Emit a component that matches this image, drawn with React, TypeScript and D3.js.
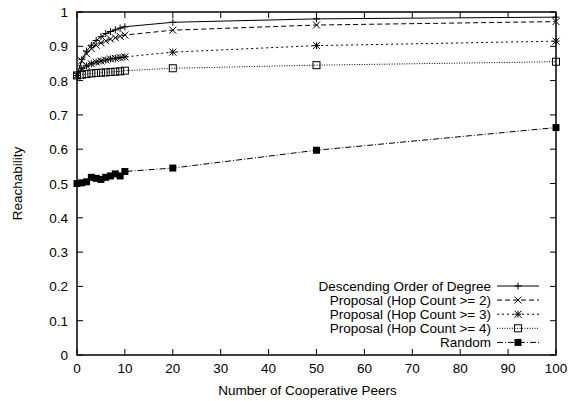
import React, { useEffect, useRef } from 'react'
import * as d3 from 'd3'

// peers counts used in the experiment
const peers = [0, 1, 2, 3, 4, 5, 6, 7, 8, 9, 10, 20, 50, 100]

const descending = [0.815, 0.862, 0.886, 0.903, 0.917, 0.928, 0.937, 0.943, 0.948, 0.953, 0.957, 0.970, 0.980, 0.985]
const hop2 = [0.815, 0.858, 0.878, 0.893, 0.903, 0.910, 0.916, 0.921, 0.925, 0.929, 0.933, 0.947, 0.962, 0.972]
const hop3 = [0.815, 0.835, 0.843, 0.849, 0.854, 0.857, 0.860, 0.863, 0.865, 0.867, 0.869, 0.883, 0.902, 0.915]
const hop4 = [0.815, 0.817, 0.819, 0.821, 0.822, 0.823, 0.824, 0.825, 0.826, 0.827, 0.829, 0.836, 0.845, 0.855]
const random = [0.500, 0.502, 0.505, 0.518, 0.515, 0.512, 0.518, 0.522, 0.528, 0.522, 0.535, 0.545, 0.597, 0.663]

const seriesNames = [
  'Descending Order of Degree',
  'Proposal (Hop Count >= 2)',
  'Proposal (Hop Count >= 3)',
  'Proposal (Hop Count >= 4)',
  'Random',
]

const xTicks = [0, 10, 20, 30, 40, 50, 60, 70, 80, 90, 100]
const yTicks = [0, 0.1, 0.2, 0.3, 0.4, 0.5, 0.6, 0.7, 0.8, 0.9, 1]

const W = 579, H = 401
const FONT = '"Liberation Sans", Arial, sans-serif'
const FS = 13.5

function App() {
  const ref = useRef<SVGSVGElement>(null)

  useEffect(() => {
    const svg = d3.select(ref.current)
    svg.selectAll('*').remove()

    const left = 77, right = 556, top = 12, bottom = 355
    const x = d3.scaleLinear().domain([0, 100]).range([left, right])
    const y = d3.scaleLinear().domain([0, 1]).range([bottom, top])

    const series = [descending, hop2, hop3, hop4, random]
    const dashes = ['none', '5,3', '2,3', '1,1.5', '6,2,1,2']
    const markers = ['plus', 'cross', 'star', 'box', 'fbox']

    const g = svg.append('g')

    // ticks (mirrored on all sides, pointing inward)
    const tl = 6
    xTicks.forEach(t => {
      g.append('line').attr('x1', x(t)).attr('x2', x(t)).attr('y1', bottom).attr('y2', bottom - tl)
        .attr('stroke', '#000').attr('stroke-width', 1)
      g.append('line').attr('x1', x(t)).attr('x2', x(t)).attr('y1', top).attr('y2', top + tl)
        .attr('stroke', '#000').attr('stroke-width', 1)
      g.append('text').attr('x', x(t)).attr('y', bottom + 18).attr('text-anchor', 'middle')
        .attr('font-family', FONT).attr('font-size', FS).text(t)
    })
    yTicks.forEach(t => {
      g.append('line').attr('x1', left).attr('x2', left + tl).attr('y1', y(t)).attr('y2', y(t))
        .attr('stroke', '#000').attr('stroke-width', 1)
      g.append('line').attr('x1', right).attr('x2', right - tl).attr('y1', y(t)).attr('y2', y(t))
        .attr('stroke', '#000').attr('stroke-width', 1)
      g.append('text').attr('x', left - 9).attr('y', y(t) + 5).attr('text-anchor', 'end')
        .attr('font-family', FONT).attr('font-size', FS).text(d3.format('~g')(t))
    })

    g.append('text').attr('transform', `translate(22,${(top + bottom) / 2}) rotate(-90)`)
      .attr('text-anchor', 'middle').attr('font-family', FONT).attr('font-size', FS).text('Reachability')
    g.append('text').attr('x', (left + right) / 2 - 9).attr('y', 395).attr('text-anchor', 'middle')
      .attr('font-family', FONT).attr('font-size', FS).text('Number of Cooperative Peers')

    const drawMarker = (sel: any, kind: string, cx: number, cy: number) => {
      const s = 3.5
      const st = (p: any) => p.attr('stroke', '#000').attr('stroke-width', 1).attr('fill', 'none')
      if (kind === 'plus' || kind === 'star') {
        st(sel.append('path').attr('d', `M${cx - s},${cy}H${cx + s}M${cx},${cy - s}V${cy + s}`))
      }
      if (kind === 'cross' || kind === 'star') {
        st(sel.append('path').attr('d', `M${cx - s},${cy - s}L${cx + s},${cy + s}M${cx - s},${cy + s}L${cx + s},${cy - s}`))
      }
      if (kind === 'box') {
        st(sel.append('rect').attr('x', cx - s).attr('y', cy - s).attr('width', 2 * s).attr('height', 2 * s))
      }
      if (kind === 'fbox') {
        sel.append('rect').attr('x', cx - s).attr('y', cy - s).attr('width', 2 * s).attr('height', 2 * s).attr('fill', '#000')
      }
    }

    const line = d3.line<number>().x((_, i) => x(peers[i])).y(d => y(d))

    series.forEach((vals, k) => {
      g.append('path').attr('d', line(vals)).attr('fill', 'none').attr('stroke', '#000')
        .attr('stroke-width', 1).attr('stroke-dasharray', dashes[k])
      vals.forEach((v, i) => drawMarker(g, markers[k], x(peers[i]), y(v)))
    })

    // legend
    const ly0 = 286, ldy = 14.1
    seriesNames.forEach((name, k) => {
      const ly = ly0 + k * ldy
      g.append('text').attr('x', 491).attr('y', ly + 5).attr('text-anchor', 'end')
        .attr('font-family', FONT).attr('font-size', FS).text(name)
      g.append('line').attr('x1', 497).attr('x2', 539).attr('y1', ly).attr('y2', ly)
        .attr('stroke', '#000').attr('stroke-width', 1).attr('stroke-dasharray', dashes[k])
      drawMarker(g, markers[k], 518, ly)
    })

    // frame
    g.append('rect').attr('x', left).attr('y', top).attr('width', right - left).attr('height', bottom - top)
      .attr('fill', 'none').attr('stroke', '#000').attr('stroke-width', 1.5)
  }, [])

  return (
    <svg ref={ref} width={W} height={H}
      style={{ position: 'absolute', left: 0, top: 0, background: '#fff' }} />
  )
}

export default App
